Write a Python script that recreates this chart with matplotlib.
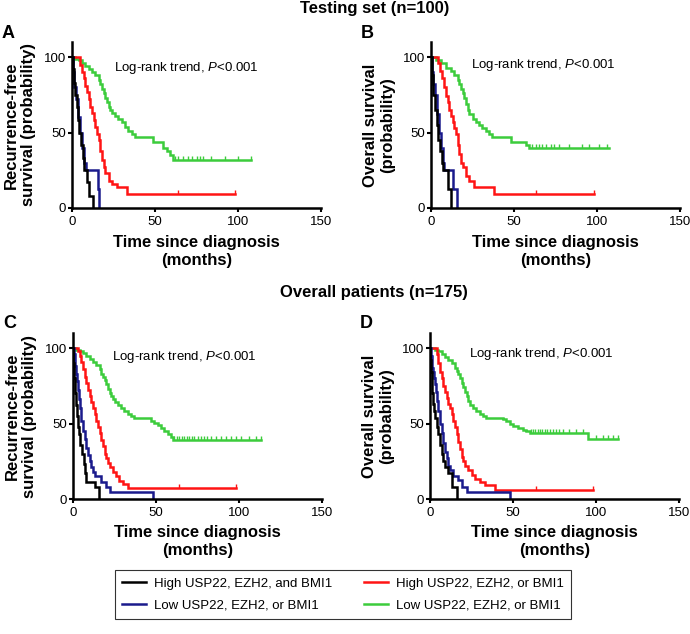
import numpy as np
import matplotlib
matplotlib.use("Agg")
import matplotlib.pyplot as plt
from matplotlib.lines import Line2D

plt.rcParams['font.family'] = ['Liberation Sans', 'DejaVu Sans']
plt.rcParams['mathtext.fontset'] = 'custom'
plt.rcParams['mathtext.rm'] = 'Liberation Sans'
plt.rcParams['mathtext.it'] = 'Liberation Sans:italic'

W, H = 690, 634

c_black = '#000000'
c_blue = '#1a1a8c'
c_red = '#ff1414'
c_green = '#3ccc3c'

labels = ['High USP22, EZH2, and BMI1', 'Low USP22, EZH2, or BMI1',
          'High USP22, EZH2, or BMI1', 'Low USP22, EZH2, or BMI1']

# ---- panel A: testing set, recurrence-free survival
a_black_t = [0, 0.5, 1, 2, 3, 3.5, 4.5, 5.5, 6.5, 7.5, 9, 10.5, 12.5]
a_black_s = [100, 92, 83, 75, 67, 58, 50, 42, 33, 25, 17, 8, 0]
a_blue_t = [0, 0.5, 1.5, 2.5, 3.5, 5, 6, 7, 8.5, 15.5, 16.5]
a_blue_s = [100, 90, 80, 72, 60, 50, 40, 30, 25, 12.5, 0]
a_red_t = [0, 5, 6, 7, 8, 9, 10, 11, 12, 13, 14, 15, 16, 17, 18, 19, 20, 22, 24, 27, 33, 98]
a_red_s = [100, 95, 90, 86, 81, 77, 72, 67, 63, 58, 54, 49, 45, 38, 32, 27, 23, 18, 16, 14, 9.5, 9.5]
a_red_c = [64, 98]
a_green_t = [0, 2, 4, 6, 8, 10, 12, 14, 16, 17, 18, 19, 20, 21, 22, 23, 24, 26, 28, 30,
             32, 34, 36, 38, 49, 55, 57, 59, 61, 108]
a_green_s = [100, 99, 98, 96, 94, 92, 90, 88, 85, 82, 79, 76, 73, 70, 67, 65, 63, 61, 59, 57,
             54, 51, 49, 47, 43.5, 40, 38, 35, 32, 32]
a_green_c = [62, 64, 67, 70, 72, 75, 77, 79, 84, 92, 100, 108]

# ---- panel B: testing set, overall survival
b_black_t = [0, 0.5, 1.5, 2.5, 3.5, 4.5, 5.5, 6.5, 7.5, 10.5, 12]
b_black_s = [100, 88, 75, 65, 55, 45, 38, 30, 25, 12.5, 0]
b_blue_t = [0, 0.5, 1.5, 2.5, 3.5, 5, 6, 7, 8, 13.5, 15.5]
b_blue_s = [100, 90, 82, 75, 62.5, 50, 40, 30, 25, 12.5, 0]
b_red_t = [0, 4.5, 5.5, 6.5, 8, 9, 10, 11, 12, 13, 14, 15, 16, 17, 18, 19, 21, 23, 26, 38, 98]
b_red_s = [100, 96, 91, 86, 80, 74, 70, 65, 61, 57, 53, 49, 42, 36, 30, 27, 21, 18, 14, 9.5, 9.5]
b_red_c = [63, 98]
b_green_t = [0, 3, 6, 9, 12, 14, 16, 17, 18, 19, 20, 21, 22, 23, 25, 27, 29, 31, 33, 35, 37,
             48, 57, 59, 107.5]
b_green_s = [100, 98, 96, 93, 91, 88, 85, 82, 79, 76, 73, 69, 65, 62, 59, 57, 55, 53, 51, 49, 47,
             44, 42, 39.5, 39.5]
b_green_c = [61, 63, 65, 67, 69, 72, 74, 77, 83, 91, 95, 101, 106]

# ---- panel C: overall patients, recurrence-free survival
c_black_t = [0, 0.3, 0.8, 1.3, 2, 2.5, 3, 3.5, 4.5, 5.5, 6.5, 7.5, 8, 13, 15.7]
c_black_s = [100, 90, 80, 70, 62, 55, 48, 43, 36, 30, 23, 17, 11.5, 8, 0]
c_blue_t = [0, 0.5, 1, 1.5, 2, 2.5, 3, 3.5, 4, 5, 6, 7, 8, 9, 10, 11, 12, 13, 17, 20, 22, 48]
c_blue_s = [100, 96, 92, 88, 83, 78, 72, 66, 60, 52, 45, 40, 34, 29, 25, 21, 18, 15, 11.5, 8, 4.6, 0]
c_red_t = [0, 3, 4, 5, 6, 7, 8, 9, 10, 11, 12, 13, 14, 15, 16, 17, 18, 19, 20, 21, 22, 24, 26,
           28, 30, 33, 98]
c_red_s = [100, 98, 95, 91, 86, 81, 77, 72, 68, 64, 60, 56, 52, 48, 44, 39, 35, 30, 27, 24, 21,
           18, 15, 12, 10, 7, 7]
c_red_c = [64, 98]
c_green_t = [0, 2, 4, 6, 8, 10, 12, 14, 16, 17, 18, 19, 20, 21, 22, 23, 24, 25, 27, 29, 31, 33,
             35, 37, 47, 49, 51, 53, 55, 57, 59, 60, 113]
c_green_s = [100, 99, 98, 97, 95, 93, 91, 89, 86, 83, 81, 79, 76, 73, 70, 68, 66, 64, 62, 60, 58,
             56, 55, 53.5, 52, 50.5, 49, 47, 45, 43, 41, 39, 39]
c_green_c = [61, 62.5, 64, 65.5, 67, 68.5, 70, 71.5, 73, 75, 77, 79, 81, 83, 86, 89, 92, 95, 98,
             101, 106, 110, 113]

# ---- panel D: overall patients, overall survival
d_black_t = [0, 0.3, 0.6, 1, 1.5, 2, 2.5, 3, 4, 5, 6, 7, 8, 9, 11, 13, 16]
d_black_s = [100, 92, 84, 78, 70, 63, 58, 54, 48, 43, 36, 30, 25, 21, 17, 8, 0]
d_blue_t = [0, 0.5, 1, 1.5, 2, 2.5, 3, 3.5, 4, 5, 6, 7, 8, 9, 10, 11, 12, 14, 17, 19.5, 22, 48]
d_blue_s = [100, 95, 91, 87, 84, 80, 76, 71, 65, 58, 50, 44, 37, 31, 27, 22, 19, 15, 12.5, 8, 4.6, 0]
d_red_t = [0, 4, 5, 6, 7, 8, 9, 10, 11, 12, 13, 14, 15, 16, 17, 18, 19, 20, 21, 23, 25, 27, 30,
           33, 39, 98]
d_red_s = [100, 96, 90, 84, 80, 75, 71, 67, 63, 60, 56, 52, 48, 43, 38, 33, 28, 25, 22, 19, 16,
           13, 11, 9, 6, 6]
d_red_c = [64, 98]
d_green_t = [0, 3, 5, 7, 9, 11, 13, 15, 16, 17, 18, 19, 20, 21, 22, 23, 24, 26, 28, 30, 32, 34,
             44, 46, 48, 50, 53, 56, 58, 60, 95, 113.5]
d_green_s = [100, 99, 98, 96, 94, 92, 90, 87, 85, 83, 80, 77, 74, 71, 68, 65, 62, 60, 58, 56, 55,
             54, 53, 52, 50, 48.5, 47, 46, 45, 44, 39.5, 39.5]
d_green_c = [61, 62, 63.5, 65, 66, 67.5, 69, 70.5, 72, 74, 76, 78, 80, 84, 88, 92, 100, 104, 107,
             110, 113.5]


def step_value(t, s, x):
    i = np.searchsorted(t, x, side='right') - 1
    return np.asarray(s)[i]


def panel(x0, x1, y0, ytop, curves, letter, ylabel, ptxt):
    ax = fig.add_axes([x0 / W, 1 - y0 / H, (x1 - x0) / W, (y0 - ytop) / H])
    for t, s, cens, col in curves:
        ax.step(t, s, where='post', color=col, lw=1.8, solid_joinstyle='miter')
        if cens:
            # GraphPad style censor ticks: short marks pointing up
            ax.plot(cens, step_value(t, s, cens), ls='none', marker=2,
                    ms=3, mew=1, color=col)
    ax.set_xlim(0, 150)
    ax.set_ylim(0, 110)
    ax.set_xticks([0, 50, 100, 150])
    ax.set_yticks([0, 50, 100])
    for sp in ['top', 'right']:
        ax.spines[sp].set_visible(False)
    for sp in ['left', 'bottom']:
        ax.spines[sp].set_linewidth(1.8)
    ax.tick_params(direction='out', length=3, width=1.5, labelsize=9.5, pad=1.5)
    ax.tick_params(axis='x', pad=2.5)
    ax.text(ptxt[0], ptxt[1], r'Log-rank trend, $\mathit{P}$<0.001', fontsize=9.5,
            va='center', ha='left')
    xc = (x0 + x1) / 2
    fig.text(xc / W, 1 - (y0 + 43) / H, 'Time since diagnosis\n(months)', ha='center',
             va='center', fontsize=12, fontweight='bold', linespacing=1.25)
    fig.text((x0 - 52) / W, 1 - ((y0 + ytop) / 2) / H, ylabel, ha='center', va='center',
             rotation=90, fontsize=12, fontweight='bold', linespacing=1.15)
    fig.text((x0 - 70) / W, 1 - (ytop - 9) / H, letter, ha='left', va='center',
             fontsize=13, fontweight='bold')
    return ax


fig = plt.figure(figsize=(W / 100, H / 100), dpi=100)

rfs_label = 'Recurrence-free\nsurvival (probability)'
os_label = 'Overall survival\n(probability)'

panel(72, 321, 208, 42,
      [(a_green_t, a_green_s, a_green_c, c_green), (a_red_t, a_red_s, a_red_c, c_red),
       (a_blue_t, a_blue_s, None, c_blue), (a_black_t, a_black_s, None, c_black)],
      'A', rfs_label, (25, 93))
panel(431, 680, 208, 42,
      [(b_green_t, b_green_s, b_green_c, c_green), (b_red_t, b_red_s, b_red_c, c_red),
       (b_blue_t, b_blue_s, None, c_blue), (b_black_t, b_black_s, None, c_black)],
      'B', os_label, (24, 95))
panel(73, 322, 499, 333,
      [(c_green_t, c_green_s, c_green_c, c_green), (c_red_t, c_red_s, c_red_c, c_red),
       (c_blue_t, c_blue_s, None, c_blue), (c_black_t, c_black_s, None, c_black)],
      'C', rfs_label, (23.5, 94))
panel(430, 679, 499, 333,
      [(d_green_t, d_green_s, d_green_c, c_green), (d_red_t, d_red_s, d_red_c, c_red),
       (d_blue_t, d_blue_s, None, c_blue), (d_black_t, d_black_s, None, c_black)],
      'D', os_label, (23.5, 96))

fig.text(375 / W, 1 - 8 / H, 'Testing set (n=100)', ha='center', va='center',
         fontsize=12, fontweight='bold')
fig.text(374 / W, 1 - 293 / H, 'Overall patients (n=175)', ha='center', va='center',
         fontsize=12, fontweight='bold')

handles = [Line2D([], [], color=c, lw=1.8) for c in [c_black, c_blue, c_red, c_green]]
leg = fig.legend(handles, labels, ncol=2, loc='upper center',
                 bbox_to_anchor=(343 / W, 1 - 563 / H), frameon=True, fancybox=False,
                 edgecolor='black', fontsize=9.5, handlelength=1.8, handletextpad=0.6,
                 columnspacing=2.4, borderpad=0.6, labelspacing=0.7)
leg.get_frame().set_linewidth(0.8)

fig.savefig('out.png', dpi=100)
